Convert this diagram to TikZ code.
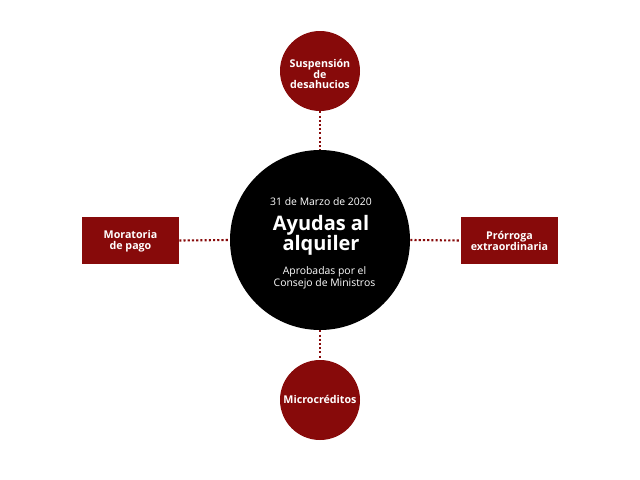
\documentclass[tikz,border=0pt]{standalone}
\usepackage{fontspec}
\setmainfont{Open Sans}
\definecolor{dred}{HTML}{870A0A}
\begin{document}
\begin{tikzpicture}[x=0.025cm,y=-0.025cm,
  lbl/.style={text=white,font=\fontsize{7.6}{7.7}\selectfont\bfseries,align=center},
  redcirc/.style={circle,fill=dred,minimum size=80*0.025cm,inner sep=0pt},
  redbox/.style={rectangle,fill=dred,minimum width=97*0.025cm,minimum height=47*0.025cm,inner sep=0pt},
  conn/.style={dred,line width=1.5pt,dash pattern=on 1.5pt off 1.5pt}]
\useasboundingbox (0,0) rectangle (640,480);
\node[circle,fill=black,minimum size=180*0.025cm,inner sep=0pt] (c) at (320,240) {};
\node[redcirc] (t) at (320,71) {};
\node[redcirc] (b) at (320,400) {};
\node[redbox] (l) at (130.5,240.5) {};
\node[redbox] (r) at (509.5,240.5) {};
\draw[conn] (t.south) -- (c.north);
\draw[conn] (c.south) -- (b.north);
\draw[conn] (l.east) -- (c.west);
\draw[conn] (c.east) -- (r.west);
\node[lbl] at (320,74) {Suspensión\\de\\desahucios};
\node[lbl] at (320,399) {Microcréditos};
\node[lbl] at (130.5,241) {Moratoria\\de pago};
\node[lbl] at (509.5,241) {Prórroga\\extraordinaria};
\node[text=white,font=\fontsize{7.4}{8}\selectfont] (d) at (321,202) {31 de Marzo de 2020};
\node[text=white,font=\fontsize{14.2}{14.5}\selectfont\bfseries,align=center] (h) at (321,235.5) {Ayudas al\\alquiler};
\node[text=white,font=\fontsize{7.4}{7.2}\selectfont,align=center] (s) at (324.5,278) {Aprobadas por el\\Consejo de Ministros};
\end{tikzpicture}
\end{document}
